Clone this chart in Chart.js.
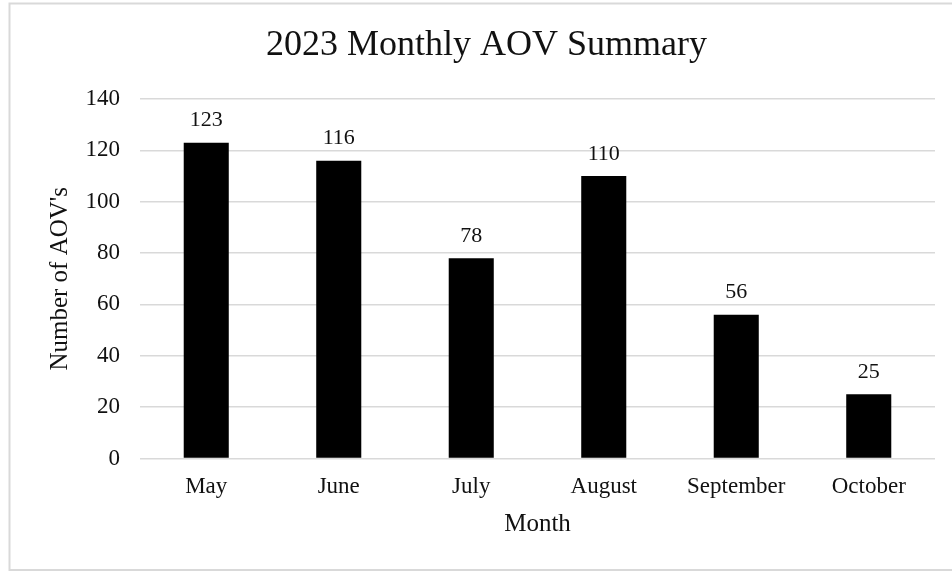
<!DOCTYPE html>
<html>
<head>
<meta charset="utf-8">
<script src="https://cdn.jsdelivr.net/npm/chart.js@4.4.1/dist/chart.umd.min.js"></script>
<style>
  html, body { margin: 0; padding: 0; background: #ffffff; }
  #wrap { width: 952px; height: 571px; position: relative; }
</style>
</head>
<body>
<div id="wrap"><canvas id="c" width="952" height="571"></canvas></div>
<script>
const categories = ["May", "June", "July", "August", "September", "October"];
const aovCounts = [123, 116, 78, 110, 56, 25];
const yTicks = [0, 20, 40, 60, 80, 100, 120, 140];
const chartTitle = "2023 Monthly AOV Summary";
const xTitle = "Month";
const yTitle = "Number of AOV's";

const FONT = "'Liberation Serif', 'Times New Roman', serif";
const TEXT = "#111111";

const frame = {
  id: 'frame',
  beforeDraw(chart) {
    const ctx = chart.ctx;
    ctx.save();
    ctx.fillStyle = '#ffffff';
    ctx.fillRect(0, 0, chart.width, chart.height);
    ctx.strokeStyle = '#d9d9d9';
    ctx.lineWidth = 2;
    ctx.strokeRect(9.5, 3.5, 960, 566.5);
    ctx.restore();
  }
};

const valueLabels = {
  id: 'valueLabels',
  afterDatasetsDraw(chart) {
    const ctx = chart.ctx;
    const meta = chart.getDatasetMeta(0);
    ctx.save();
    ctx.font = "22px " + FONT;
    ctx.fillStyle = TEXT;
    ctx.textAlign = 'center';
    ctx.textBaseline = 'middle';
    meta.data.forEach((bar, i) => {
      ctx.fillText(String(chart.data.datasets[0].data[i]), bar.x, bar.y - 22);
    });
    ctx.restore();
  }
};

new Chart(document.getElementById('c'), {
  type: 'bar',
  data: {
    labels: categories,
    datasets: [{
      data: aovCounts,
      backgroundColor: '#000000',
      borderWidth: 0,
      categoryPercentage: 1.0,
      barPercentage: 0.34
    }]
  },
  options: {
    responsive: false,
    animation: false,
    devicePixelRatio: 1,
    layout: { padding: { left: 38, right: 17, top: 0, bottom: 0 } },
    plugins: {
      legend: { display: false },
      tooltip: { enabled: false },
      title: {
        display: true,
        text: chartTitle,
        color: TEXT,
        font: { family: FONT, size: 36, weight: 'normal' },
        padding: { top: 24, bottom: 31.8 }
      }
    },
    scales: {
      x: {
        grid: { display: false, drawTicks: false },
        border: { display: false },
        ticks: {
          color: TEXT,
          font: { family: FONT, size: 23 },
          padding: 15,
          maxRotation: 0
        },
        title: {
          display: true,
          text: xTitle,
          color: TEXT,
          font: { family: FONT, size: 25 },
          padding: { top: 0, bottom: 32 }
        },
        afterFit(scale) { scale.height = 112.5; }
      },
      y: {
        min: 0,
        max: 140,
        afterBuildTicks(scale) { scale.ticks = yTicks.map(v => ({ value: v })); },
        grid: { color: '#d9d9d9', lineWidth: 1.5, drawTicks: false },
        border: { display: false },
        ticks: {
          color: TEXT,
          font: { family: FONT, size: 23 },
          padding: 20
        },
        title: {
          display: true,
          text: yTitle,
          color: TEXT,
          font: { family: FONT, size: 25 },
          padding: { top: 7, bottom: 0 }
        },
        afterFit(scale) { scale.width = 102; }
      }
    }
  },
  plugins: [frame, valueLabels]
});
</script>
</body>
</html>
